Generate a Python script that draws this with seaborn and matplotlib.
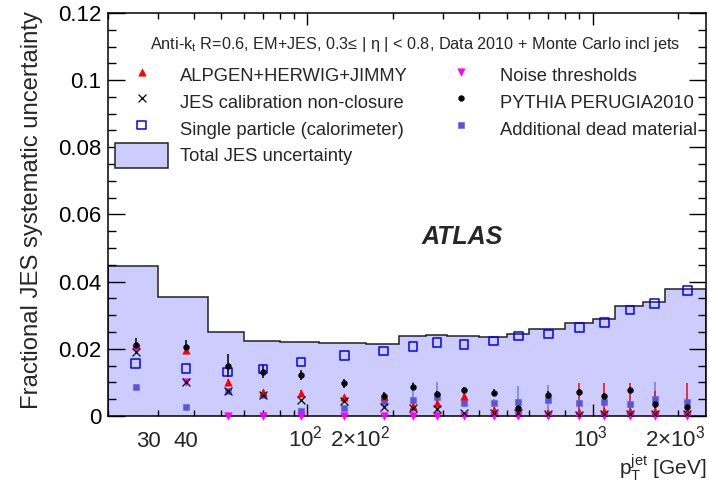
import numpy as np
import pandas as pd
import matplotlib
matplotlib.use('Agg')
import matplotlib.pyplot as plt
import matplotlib.ticker as mticker
import matplotlib.transforms as mtransforms
import seaborn as sns

sns.set_style('ticks')
plt.rcParams['font.family'] = ['Liberation Sans', 'DejaVu Sans']
plt.rcParams['mathtext.fontset'] = 'custom'
plt.rcParams['mathtext.rm'] = 'Liberation Sans'
plt.rcParams['mathtext.it'] = 'Liberation Sans:italic'
plt.rcParams['mathtext.bf'] = 'Liberation Sans:bold'

# pT bins [GeV]
bin_edges = [20, 30, 45, 60, 80, 110, 160, 210, 260, 310, 400, 500, 600,
             800, 1000, 1200, 1500, 1800, 2500]

# total JES uncertainty (band)
total_jes = [0.0447, 0.0354, 0.0251, 0.0224, 0.0220, 0.0216, 0.0213, 0.0238,
             0.0240, 0.0238, 0.0236, 0.0244, 0.0258, 0.0276, 0.0288, 0.0326,
             0.0340, 0.0377]

single_particle = [0.0156, 0.0141, 0.0130, 0.0140, 0.0160, 0.0180, 0.0193,
                   0.0207, 0.0219, 0.0213, 0.0223, 0.0238, 0.0244, 0.0263,
                   0.0278, 0.0315, 0.0335, 0.0374]

alpgen = [0.0210, 0.0197, 0.0102, 0.0070, 0.0069, 0.0055, 0.0060, 0.0030,
          0.0040, 0.0060, 0.0018, 0.0010, 0.0008, 0.0012, 0.0015, 0.0015,
          0.0015, 0.0015]
alpgen_err = [0.0008, 0.0008, 0.0008, 0.0008, 0.0008, 0.0008, 0.0008, 0.0008,
              0.0008, 0.0008, 0.0010, 0.0010, 0.0010, 0.0085, 0.0082, 0.0082,
              0.0060, 0.0082]

nonclosure = [0.0190, 0.0102, 0.0074, 0.0063, 0.0048, 0.0045, 0.0026, 0.0023,
              0.0020, 0.0008, 0.0010, 0.0008, 0.0005, 0.0004, 0.0005, 0.0005,
              0.0005, 0.0005]

noise = [0.0200, 0.0102, 0.0, 0.0, 0.0, 0.0, 0.0, 0.0, 0.0, 0.0, 0.0, 0.0,
         0.0, 0.0, 0.0, 0.0, 0.0, 0.0]

pythia = [0.0210, 0.0205, 0.0150, 0.0132, 0.0122, 0.0097, 0.0060, 0.0087,
          0.0065, 0.0077, 0.0069, 0.0025, 0.0063, 0.0071, 0.0058, 0.0077,
          0.0035, 0.0028]
pythia_err = [0.0021, 0.0022, 0.0035, 0.0020, 0.0015, 0.0013, 0.0010, 0.0010,
              0.0010, 0.0010, 0.0010, 0.0010, 0.0010, 0.0010, 0.0010, 0.0010,
              0.0010, 0.0010]

dead_material = [0.0086, 0.0026, 0.0074, 0.0063, 0.0016, 0.0025, 0.0043,
                 0.0048, 0.0055, 0.0038, 0.0040, 0.0043, 0.0046, 0.0038,
                 0.0043, 0.0035, 0.0051, 0.0043]
dead_material_err = [0.0003, 0.0003, 0.0003, 0.0003, 0.0003, 0.0003, 0.0005,
                     0.0052, 0.0047, 0.0010, 0.0010, 0.0045, 0.0045, 0.0010,
                     0.0010, 0.0010, 0.0050, 0.0010]

# x tick labels (value, text, horizontal shift in px like the ROOT output)
xtick_vals = [30, 40, 100, 200, 1000, 2000]
xtick_text = ['30', '40', '10$^{2}$', '2\u00d710$^{2}$', '10$^{3}$', '2\u00d710$^{3}$']
xtick_shift = [-10, -8, -2, -33, -2, -3]

edges = np.array(bin_edges, dtype=float)
pt = (edges[:-1] + edges[1:]) / 2

df = pd.DataFrame({'pt': pt, 'single': single_particle, 'alpgen': alpgen,
                   'nonclosure': nonclosure, 'noise': noise, 'pythia': pythia,
                   'dead': dead_material})

fig = plt.figure(figsize=(7.09, 4.94), dpi=100)
ax = fig.add_axes([0.1523, 0.158, 0.8435, 0.8158])

# total JES band
ax.stairs(total_jes, edges, fill=True, facecolor='#ccccff', edgecolor='#222222',
          linewidth=1.1, zorder=0.5, label='Total JES uncertainty')

# error bars
ax.errorbar(pt, dead_material, yerr=dead_material_err, fmt='none',
            ecolor='#7777ee', elinewidth=1.1, zorder=1)
ax.errorbar(pt, alpgen, yerr=alpgen_err, fmt='none', ecolor='red',
            elinewidth=1.1, zorder=1)
ax.errorbar(pt, pythia, yerr=pythia_err, fmt='none', ecolor='black',
            elinewidth=1.1, zorder=1)

sns.scatterplot(data=df, x='pt', y='dead', marker='s', color='#5555dd', s=24,
                edgecolor='#6a6ae0', linewidth=0.5, ax=ax, zorder=2,
                label='Additional dead material')
sns.scatterplot(data=df, x='pt', y='single', marker='s', facecolor='none',
                edgecolor='#0000ff', s=36, linewidth=1.1, ax=ax, zorder=2,
                label='Single particle (calorimeter)')
sns.scatterplot(data=df, x='pt', y='alpgen', marker='^', color='red', s=30,
                edgecolor='red', linewidth=0.3, ax=ax, zorder=3,
                label='ALPGEN+HERWIG+JIMMY')
sns.scatterplot(data=df, x='pt', y='noise', marker='v', color='#ff00ff', s=30,
                edgecolor='#ff00ff', linewidth=0.3, ax=ax, zorder=3,
                clip_on=False, label='Noise thresholds')
sns.scatterplot(data=df, x='pt', y='nonclosure', marker='x', color='black',
                s=32, linewidth=0.9, ax=ax, zorder=4,
                label='JES calibration non-closure')
sns.scatterplot(data=df, x='pt', y='pythia', marker='o', color='black', s=18,
                edgecolor='black', linewidth=0.3, ax=ax, zorder=5,
                label='PYTHIA PERUGIA2010')

ax.set_xscale('log')
ax.set_xlim(20, 2500)
ax.set_ylim(0, 0.12)

# ticks
ax.xaxis.set_major_locator(mticker.FixedLocator([100, 1000]))
minor_x = [v * d for d in (10, 100, 1000) for v in range(2, 10) if 20 <= v * d <= 2500]
ax.xaxis.set_minor_locator(mticker.FixedLocator(minor_x))
ax.xaxis.set_minor_formatter(mticker.NullFormatter())
ax.yaxis.set_major_locator(mticker.MultipleLocator(0.02))
ax.yaxis.set_minor_locator(mticker.MultipleLocator(0.005))
ax.yaxis.set_major_formatter(mticker.FuncFormatter(lambda v, p: '%g' % v))

ax.tick_params(axis='both', which='both', direction='in', top=True, right=True,
               labelsize=16, width=1.0, colors='black')
ax.tick_params(axis='x', which='both', labelbottom=False)
ax.tick_params(axis='x', which='major', length=8.5)
ax.tick_params(axis='x', which='minor', length=4.3)
ax.tick_params(axis='y', which='major', length=12, pad=5)
ax.tick_params(axis='y', which='minor', length=5.8)
for s in ax.spines.values():
    s.set_linewidth(1.1)
    s.set_color('black')

# x tick labels, placed like ROOT does
xlab_trans = mtransforms.blended_transform_factory(ax.transData, ax.transAxes)
for v, t, dx in zip(xtick_vals, xtick_text, xtick_shift):
    off = mtransforms.ScaledTranslation(dx / 100, 0, fig.dpi_scale_trans)
    ax.text(v, -0.077, t, transform=xlab_trans + off, ha='center',
            va='baseline', fontsize=16)

ax.set_ylabel('Fractional JES systematic uncertainty', fontsize=17.2, loc='top')
ax.yaxis.set_label_coords(-0.108, 1.005)
ax.set_xlabel('p$_{\\mathrm{T}}^{\\mathrm{jet}}$ [GeV]', fontsize=15, loc='right')
ax.xaxis.set_label_coords(1.0, -0.09)

ax.text(0.513, 0.921,
        'Anti-k$_{\\mathrm{t}}$ R=0.6, EM+JES, 0.3\u2264 | \u03b7 | < 0.8, '
        'Data 2010 + Monte Carlo incl jets',
        transform=ax.transAxes, ha='center', va='center', fontsize=11.7)
ax.text(0.592, 0.444, 'ATLAS', transform=ax.transAxes, ha='center',
        va='center', fontsize=18, fontweight='bold', fontstyle='italic')

# legend in reference order
h, l = ax.get_legend_handles_labels()
hd = dict(zip(l, h))
order = ['ALPGEN+HERWIG+JIMMY', 'JES calibration non-closure',
         'Single particle (calorimeter)', 'Total JES uncertainty',
         'Noise thresholds', 'PYTHIA PERUGIA2010', 'Additional dead material']
ax.legend([hd[k] for k in order], order, ncol=2, frameon=False,
          loc='upper left', bbox_to_anchor=(0.0117, 0.877), borderpad=0,
          borderaxespad=0, fontsize=13.2, handlelength=2.9, handleheight=1.72,
          labelspacing=0.1, handletextpad=0.65, columnspacing=1.45)

fig.savefig('out.png', dpi=100)
